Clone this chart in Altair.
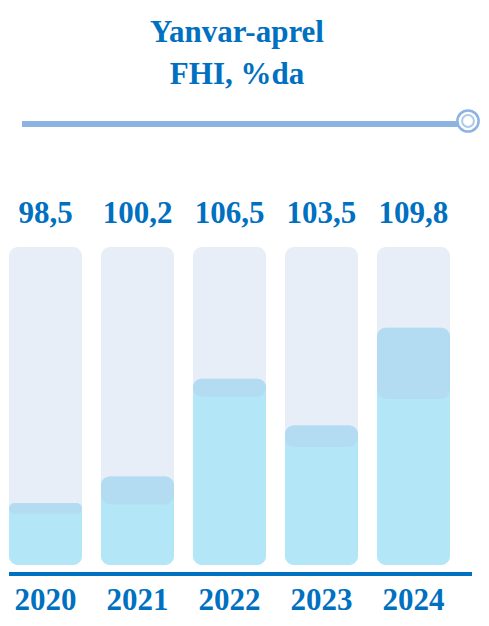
import altair as alt
import pandas as pd

# ---- data ----
years = ["2020", "2021", "2022", "2023", "2024"]
values = [98.5, 100.2, 106.5, 103.5, 109.8]
value_labels = ["98,5", "100,2", "106,5", "103,5", "109,8"]
cap_depth = [0.7, 1.8, 1.15, 1.4, 4.6]   # darker band at top of each filled bar
title_lines = ["Yanvar-aprel", "FHI, %da"]
Y_MIN, Y_MAX = 94.5, 115.0

df = pd.DataFrame({
    "year": years,
    "value": values,
    "label": value_labels,
    "cap_start": [v - c for v, c in zip(values, cap_depth)],
    "base": [Y_MIN] * len(years),
    "top": [Y_MAX] * len(years),
})

BLUE = "#0070c0"
LINE = "#8db3e2"
FONT = "Liberation Serif"

xs = alt.Scale(domain=years, range=[1, 442], paddingInner=0.2065, paddingOuter=0)
ys = alt.Scale(domain=[Y_MIN, Y_MAX], range=[557, 239], nice=False, zero=False)
X = alt.X("year:N", scale=xs, axis=None)

base = alt.Chart(df)

bg = base.mark_bar(color="#e8eef7", cornerRadius=9).encode(
    x=X, y=alt.Y("base:Q", scale=ys, axis=None), y2="top:Q")
fg = base.mark_bar(color="#b3e7f8", cornerRadius=9).encode(
    x=X, y=alt.Y("base:Q", scale=ys, axis=None), y2="value:Q")
cap = base.mark_bar(color="#b3dcf2", cornerRadius=9).encode(
    x=X, y=alt.Y("cap_start:Q", scale=ys, axis=None), y2="value:Q")

vals = base.mark_text(font=FONT, fontSize=31, fontWeight="bold", color=BLUE,
                      baseline="alphabetic", dy=-24).encode(
    x=X, y=alt.Y("top:Q", scale=ys, axis=None), text="label:N")
yrs = base.mark_text(font=FONT, fontSize=31, fontWeight="bold", color=BLUE,
                     baseline="alphabetic", dy=45).encode(
    x=X, y=alt.Y("base:Q", scale=ys, axis=None), text="year:N")

one = pd.DataFrame({"a": [0]})
baseline_rule = alt.Chart(one).mark_rule(color=BLUE, strokeWidth=4).encode(
    x=alt.value(1), x2=alt.value(464), y=alt.value(566))

top_line = alt.Chart(one).mark_rule(color=LINE, strokeWidth=6).encode(
    x=alt.value(14), x2=alt.value(452), y=alt.value(116))

outer_c = alt.Chart(one).mark_point(
    shape="circle", filled=False, stroke=LINE, strokeWidth=2.5,
    fill="white", fillOpacity=1, size=450).encode(
    x=alt.value(460), y=alt.value(113))
inner_c = alt.Chart(one).mark_point(
    shape="circle", filled=False, stroke=LINE, strokeWidth=2, size=140).encode(
    x=alt.value(460), y=alt.value(113))

title_layers = []
for line, ypos in zip(title_lines, [34, 76]):
    title_layers.append(
        alt.Chart(pd.DataFrame({"t": [line]})).mark_text(
            font=FONT, fontSize=31, fontWeight="bold", color=BLUE,
            baseline="alphabetic").encode(
            x=alt.value(229), y=alt.value(ypos), text="t:N"))

chart = alt.layer(
    bg, fg, cap, vals, yrs, baseline_rule, top_line, outer_c, inner_c, *title_layers
).properties(
    width=473, height=610, padding=0,
    autosize=alt.AutoSizeParams(type="none"),
    background="white",
).configure_view(stroke=None)

chart.save("out.html", embed_options={"renderer": "svg", "actions": False})
